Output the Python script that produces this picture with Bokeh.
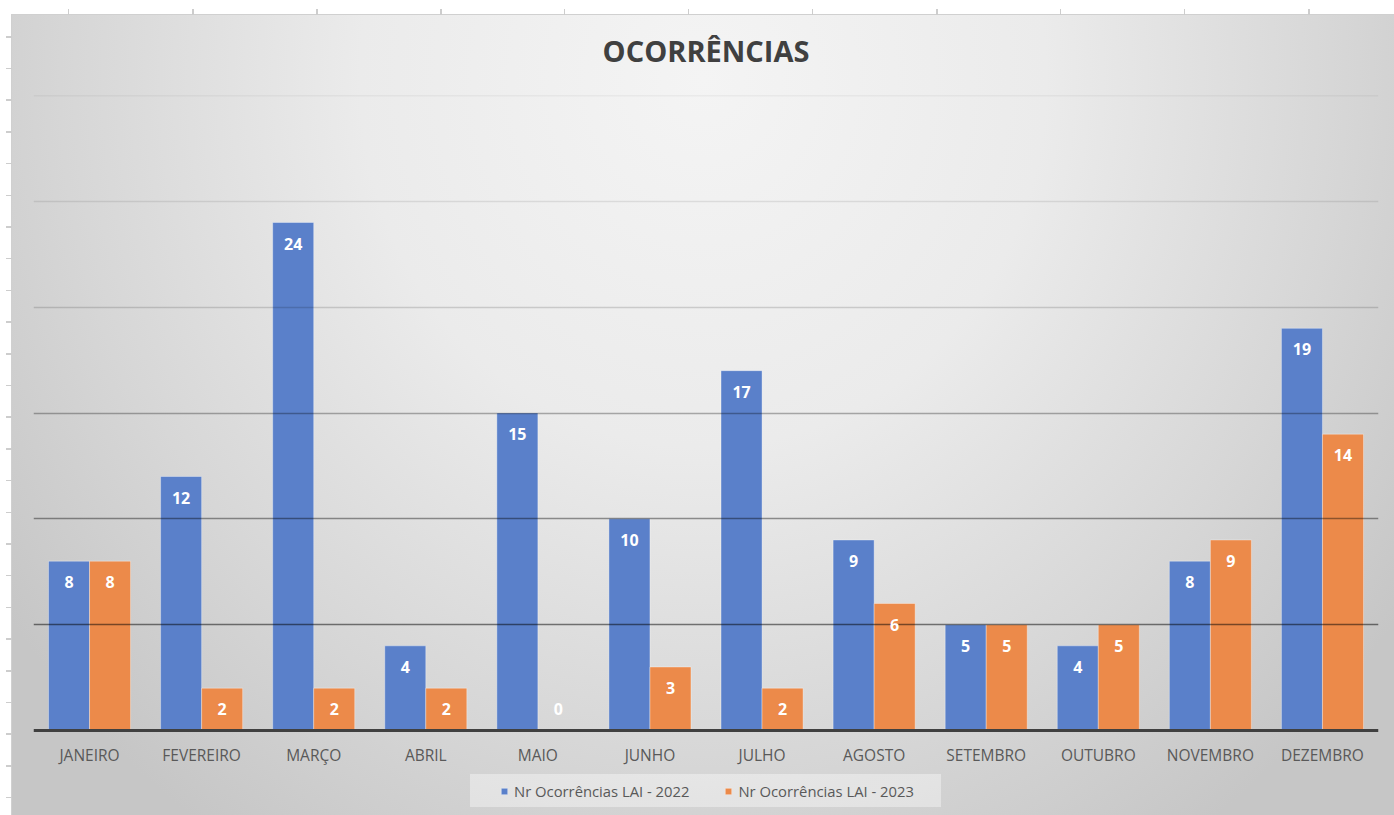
from bokeh.plotting import figure
from bokeh.models import ColumnDataSource, FactorRange, Range1d, Legend, LegendItem
from bokeh.transform import dodge
from bokeh.core.properties import value
from bokeh.embed import file_html
from bokeh.resources import INLINE

# ---- data ----
meses = ["JANEIRO", "FEVEREIRO", "MARÇO", "ABRIL", "MAIO", "JUNHO",
         "JULHO", "AGOSTO", "SETEMBRO", "OUTUBRO", "NOVEMBRO", "DEZEMBRO"]
ocorr_2022 = [8, 12, 24, 4, 15, 10, 17, 9, 5, 4, 8, 19]
ocorr_2023 = [8, 2, 2, 2, 0, 3, 2, 6, 5, 5, 9, 14]
serie_2022 = "Nr Ocorrências LAI - 2022"
serie_2023 = "Nr Ocorrências LAI - 2023"
titulo = "OCORRÊNCIAS"
y_ticks = [5, 10, 15, 20, 25, 30]
y_max = 30

# ---- layout / style ----
W, H = 1394, 815
FRAME_TOP, BASELINE = 95, 730          # px from top of canvas
BLUE = "#5a80ca"
ORANGE = "#ec8a4a"
FONT = "Open Sans"
grid_alpha = [0.5, 0.4, 0.3, 0.15, 0.09, 0.08]

# room below the zero line (axis labels and legend) expressed in axis units
y_low = -(H - BASELINE) / (BASELINE - FRAME_TOP) * y_max


def label_offset(v):
    return 21 if v > 0 else -22


src = ColumnDataSource(dict(
    mes=meses,
    v22=ocorr_2022,
    v23=ocorr_2023,
    t22=[str(v) for v in ocorr_2022],
    t23=[str(v) for v in ocorr_2023],
    o22=[label_offset(v) for v in ocorr_2022],
    o23=[label_offset(v) for v in ocorr_2023],
))

p = figure(
    width=W, height=H,
    x_range=FactorRange(*meses, range_padding=0),
    y_range=Range1d(y_low, y_max),
    output_backend="svg", toolbar_location=None, tools="",
    min_border_left=33, min_border_right=16, min_border_top=FRAME_TOP, min_border_bottom=0,
)
p.border_fill_color = None
p.background_fill_color = None
p.outline_line_color = None

bg_layers = [
    # legend box
    "linear-gradient(rgba(255,255,255,0.38), rgba(255,255,255,0.38)) 470px 774px / 471px 33px no-repeat",
    # sheet ruler ticks
    "repeating-linear-gradient(to right, transparent 0px, transparent 68px, #cdcdcd 68px, #cdcdcd 69.5px, transparent 69.5px, transparent 124px) 0px 9px / 100% 6px no-repeat",
    "repeating-linear-gradient(to bottom, transparent 0px, transparent 21px, #cdcdcd 21px, #cdcdcd 22.5px, transparent 22.5px, transparent 31.7px) 6px 15px / 6px calc(100% - 15px) no-repeat",
    # chart area
    "radial-gradient(ellipse 62% 115% at 50% 8%, #f4f4f4 0%, #ebebeb 40%, #d6d6d6 75%, #c6c6c6 100%) 12px 15px / calc(100% - 12px) calc(100% - 15px) no-repeat",
    "linear-gradient(#d0d0d0, #d0d0d0) 11px 14px / calc(100% - 11px) calc(100% - 14px) no-repeat",
    "#ffffff",
]
p.styles = {"background": ", ".join(bg_layers)}

# title
p.title.text = titulo
p.title.align = "center"
p.title.text_font = FONT
p.title.text_font_size = "29px"
p.title.text_font_style = "bold"
p.title.text_color = "#404040"
p.title.standoff = 52

# bars
r22 = p.vbar(x=dodge("mes", -0.183, range=p.x_range), top="v22", width=0.366, source=src,
             fill_color=BLUE, line_color="white", line_alpha=0.35, line_width=1)
r23 = p.vbar(x=dodge("mes", 0.183, range=p.x_range), top="v23", width=0.366, source=src,
             fill_color=ORANGE, line_color="white", line_alpha=0.35, line_width=1)

# gridlines drawn over bars
p.xgrid.visible = False
p.ygrid.visible = False
p.hspan(y=y_ticks, line_color="black", line_alpha=grid_alpha, line_width=1.5)

# data labels
for col, t, o, dx in (("v22", "t22", "o22", -0.183), ("v23", "t23", "o23", 0.183)):
    p.text(x=dodge("mes", dx, range=p.x_range), y=col, text=t, y_offset=o, source=src,
           text_color="white", text_font=value(FONT), text_font_style="bold",
           text_font_size="16px", text_align="center", text_baseline="middle")

# axes: category axis drawn on the zero line
p.yaxis.visible = False
ax = p.xaxis[0]
ax.fixed_location = 0
ax.axis_line_color = "#404040"
ax.axis_line_width = 3
ax.major_tick_line_color = None
ax.minor_tick_line_color = None
ax.major_label_text_font = FONT
ax.major_label_text_font_size = "15.5px"
ax.major_label_text_color = "#595959"
ax.major_label_standoff = 7

legend = Legend(
    items=[LegendItem(label=serie_2022, renderers=[r22]),
           LegendItem(label=serie_2023, renderers=[r23])],
    orientation="horizontal", location=(467, 14),
    glyph_width=8, glyph_height=8, label_standoff=6, spacing=35, padding=7, margin=0,
    label_text_font=FONT, label_text_font_size="14.8px", label_text_color="#595959",
    background_fill_alpha=0, border_line_color=None,
)
p.add_layout(legend)

open("out.html", "w").write(file_html(p, INLINE))
